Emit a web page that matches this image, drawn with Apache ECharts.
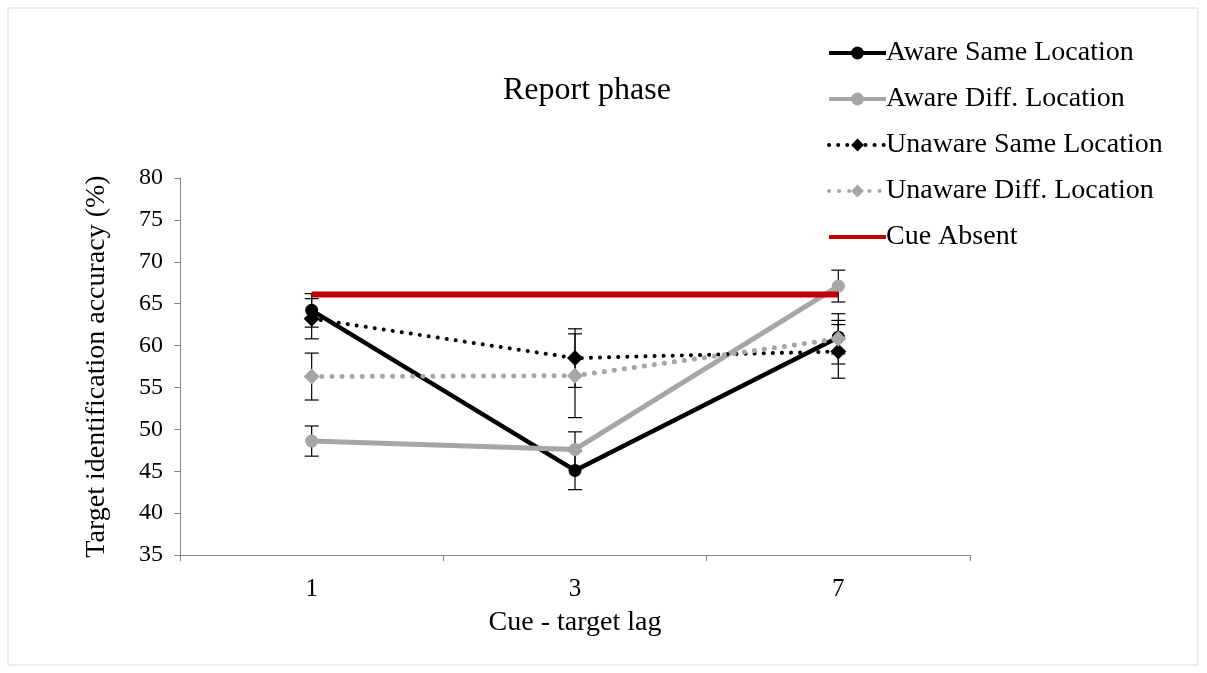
<!DOCTYPE html>
<html>
<head>
<meta charset="utf-8">
<script src="https://cdn.jsdelivr.net/npm/echarts@6/dist/echarts.min.js"></script>
<style>
  html, body { margin: 0; padding: 0; background: #fff; }
  #chart { width: 1207px; height: 673px; }
</style>
</head>
<body>
<div id="chart"></div>
<script>
// 数据
const categories = ['1', '3', '7'];
const awareSame = [64.2, 45.1, 61.0];
const awareSameErr = [2.0, 2.3, 2.0];
const awareDiff = [48.6, 47.6, 67.1];
const awareDiffErr = [1.8, 2.1, 1.9];
const unawareSame = [63.2, 58.5, 59.3];
const unawareSameErr = [2.4, 3.5, 3.2];
const unawareDiff = [56.3, 56.4, 60.8];
const unawareDiffErr = [2.8, 5.0, 3.0];
const cueAbsent = [66.1, 66.1, 66.1];
const yTicks = [35, 40, 45, 50, 55, 60, 65, 70, 75, 80];

const serif = '"Liberation Serif", "DejaVu Serif", serif';
const myChart = echarts.init(document.getElementById('chart'));

// 误差线 (custom series)
function errorSeries(vals, errs) {
  return {
    type: 'custom',
    z: 1,
    silent: true,
    data: vals.map((v, i) => [i, v - errs[i], v + errs[i]]),
    renderItem: function (params, api) {
      const lo = api.coord([api.value(0), api.value(1)]);
      const hi = api.coord([api.value(0), api.value(2)]);
      const w = 7;
      const style = { stroke: '#000', lineWidth: 1.2 };
      return {
        type: 'group',
        children: [
          { type: 'line', shape: { x1: lo[0], y1: lo[1], x2: hi[0], y2: hi[1] }, style: style },
          { type: 'line', shape: { x1: lo[0] - w, y1: lo[1], x2: lo[0] + w, y2: lo[1] }, style: style },
          { type: 'line', shape: { x1: hi[0] - w, y1: hi[1], x2: hi[0] + w, y2: hi[1] }, style: style }
        ]
      };
    }
  };
}

const option = {
  animation: false,
  backgroundColor: '#fff',
  textStyle: { fontFamily: serif },
  graphic: [{
    type: 'rect',
    shape: { x: 8, y: 8, width: 1190, height: 657 },
    style: { fill: 'none', stroke: '#d9d9d9', lineWidth: 1 }
  }],
  title: {
    text: 'Report phase',
    left: 582,
    textAlign: 'center',
    top: 70,
    textStyle: { fontFamily: serif, fontSize: 32, fontWeight: 'normal', color: '#000' }
  },
  legend: {
    orient: 'vertical',
    left: 822,
    top: 34,
    itemWidth: 57,
    itemHeight: 16,
    itemGap: 18,
    lineStyle: { width: 4 },
    data: [
      'Aware Same Location',
      'Aware Diff. Location',
      'Unaware Same Location',
      'Unaware Diff. Location',
      { name: 'Cue Absent', itemStyle: { opacity: 0 } }
    ],
    textStyle: { fontFamily: serif, fontSize: 28, color: '#000', padding: [0, 0, 0, -5] }
  },
  grid: { left: 180, top: 178, width: 790, height: 377 },
  xAxis: {
    type: 'category',
    data: categories,
    boundaryGap: true,
    name: 'Cue - target lag',
    nameLocation: 'middle',
    nameGap: 54,
    nameTextStyle: { fontFamily: serif, fontSize: 28, color: '#000' },
    axisLine: { lineStyle: { color: '#868686', width: 1 } },
    axisTick: { show: true, length: 6, lineStyle: { color: '#868686' } },
    axisLabel: { margin: 22, fontFamily: serif, fontSize: 25, color: '#000' }
  },
  yAxis: {
    type: 'value',
    min: yTicks[0],
    max: yTicks[yTicks.length - 1],
    interval: 5,
    name: 'Target identification accuracy (%)',
    nameLocation: 'middle',
    nameRotate: 90,
    nameGap: 69,
    nameTextStyle: { fontFamily: serif, fontSize: 28, color: '#000' },
    splitLine: { show: false },
    axisLine: { show: true, lineStyle: { color: '#868686', width: 1 } },
    axisTick: { show: true, length: 6, lineStyle: { color: '#868686' } },
    axisLabel: { margin: 17, fontFamily: serif, fontSize: 24, color: '#000' }
  },
  series: [
    errorSeries(awareSame, awareSameErr),
    errorSeries(awareDiff, awareDiffErr),
    errorSeries(unawareSame, unawareSameErr),
    errorSeries(unawareDiff, unawareDiffErr),
    {
      name: 'Aware Same Location',
      type: 'line',
      data: awareSame,
      z: 2,
      symbol: 'circle',
      symbolSize: 13,
      color: '#000',
      lineStyle: { color: '#000', width: 4.5 },
      itemStyle: { color: '#000' }
    },
    {
      name: 'Aware Diff. Location',
      type: 'line',
      data: awareDiff,
      z: 3,
      symbol: 'circle',
      symbolSize: 13,
      color: '#a6a6a6',
      lineStyle: { color: '#a6a6a6', width: 5 },
      itemStyle: { color: '#a6a6a6' }
    },
    {
      name: 'Unaware Same Location',
      type: 'line',
      data: unawareSame,
      z: 4,
      symbol: 'diamond',
      symbolSize: 16,
      color: '#000',
      lineStyle: { color: '#000', width: 4, type: [0.1, 9], cap: 'round' },
      itemStyle: { color: '#000' }
    },
    {
      name: 'Unaware Diff. Location',
      type: 'line',
      data: unawareDiff,
      z: 5,
      symbol: 'diamond',
      symbolSize: 16,
      color: '#a6a6a6',
      lineStyle: { color: '#a6a6a6', width: 5, type: [0.1, 10], cap: 'round' },
      itemStyle: { color: '#a6a6a6' }
    },
    {
      name: 'Cue Absent',
      type: 'line',
      data: cueAbsent,
      z: 6,
      symbol: 'none',
      color: '#c00000',
      lineStyle: { color: '#c00000', width: 6 }
    }
  ]
};

myChart.setOption(option);
</script>
</body>
</html>
